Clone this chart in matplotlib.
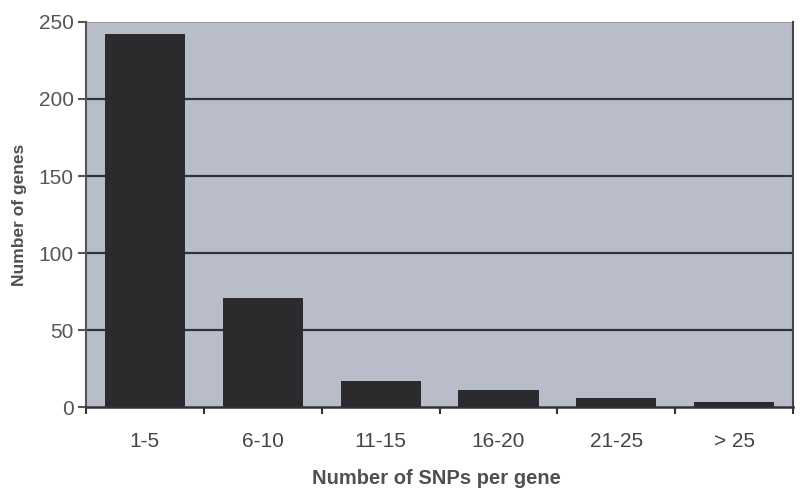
import numpy as np
import matplotlib.pyplot as plt

# data
categories = ["1-5", "6-10", "11-15", "16-20", "21-25", "> 25"]
genes = [242, 71, 17, 11, 6, 3]
y_ticks = [0, 50, 100, 150, 200, 250]

plt.rcParams["font.family"] = ["Liberation Sans", "DejaVu Sans"]

fig = plt.figure(figsize=(8, 4.93), dpi=100)
ax = fig.add_axes([0.1075, 0.1744, 0.884, 0.781])
ax.set_facecolor("#b9bdca")

x = np.arange(len(categories))
ax.bar(x, genes, width=0.68, color="#2b2a2d", zorder=3)

ax.set_xlim(-0.5, len(categories) - 0.5)
ax.set_ylim(0, 250)
ax.set_yticks(y_ticks)
ax.set_yticklabels([str(v) for v in y_ticks], fontsize=15, color="#555555")

# grid lines
for v in y_ticks[1:-1]:
    ax.axhline(v, color="#2f3240", lw=1.6, zorder=2)
ax.axhline(250, color="#8a8d98", lw=1.2, zorder=2)

# x ticks at category boundaries, labels at centres
ax.set_xticks(np.arange(len(categories) + 1) - 0.5)
ax.set_xticklabels([])
ax.set_xticks(x, minor=True)
ax.set_xticklabels(categories, minor=True, fontsize=15, color="#454545")
ax.tick_params(axis="x", which="minor", length=0, pad=18)
ax.tick_params(axis="x", which="major", length=5, width=1.5, color="#333333", direction="out")
ax.tick_params(axis="y", length=6, width=1.5, color="#555555", pad=3)

ax.spines["top"].set_visible(False)
ax.spines["left"].set_color("#555555")
ax.spines["left"].set_linewidth(1.5)
ax.spines["bottom"].set_color("#333333")
ax.spines["bottom"].set_linewidth(1.8)
ax.spines["right"].set_color("#444444")
ax.spines["right"].set_linewidth(1.5)

fig.text(0.546, 1 - 479 / 493, "Number of SNPs per gene", fontsize=14.5, fontweight="bold",
         color="#505050", ha="center", va="center")
ax.set_ylabel("Number of genes", fontsize=12.5, fontweight="bold", color="#505050", labelpad=8)

fig.savefig("out.png", dpi=100)
